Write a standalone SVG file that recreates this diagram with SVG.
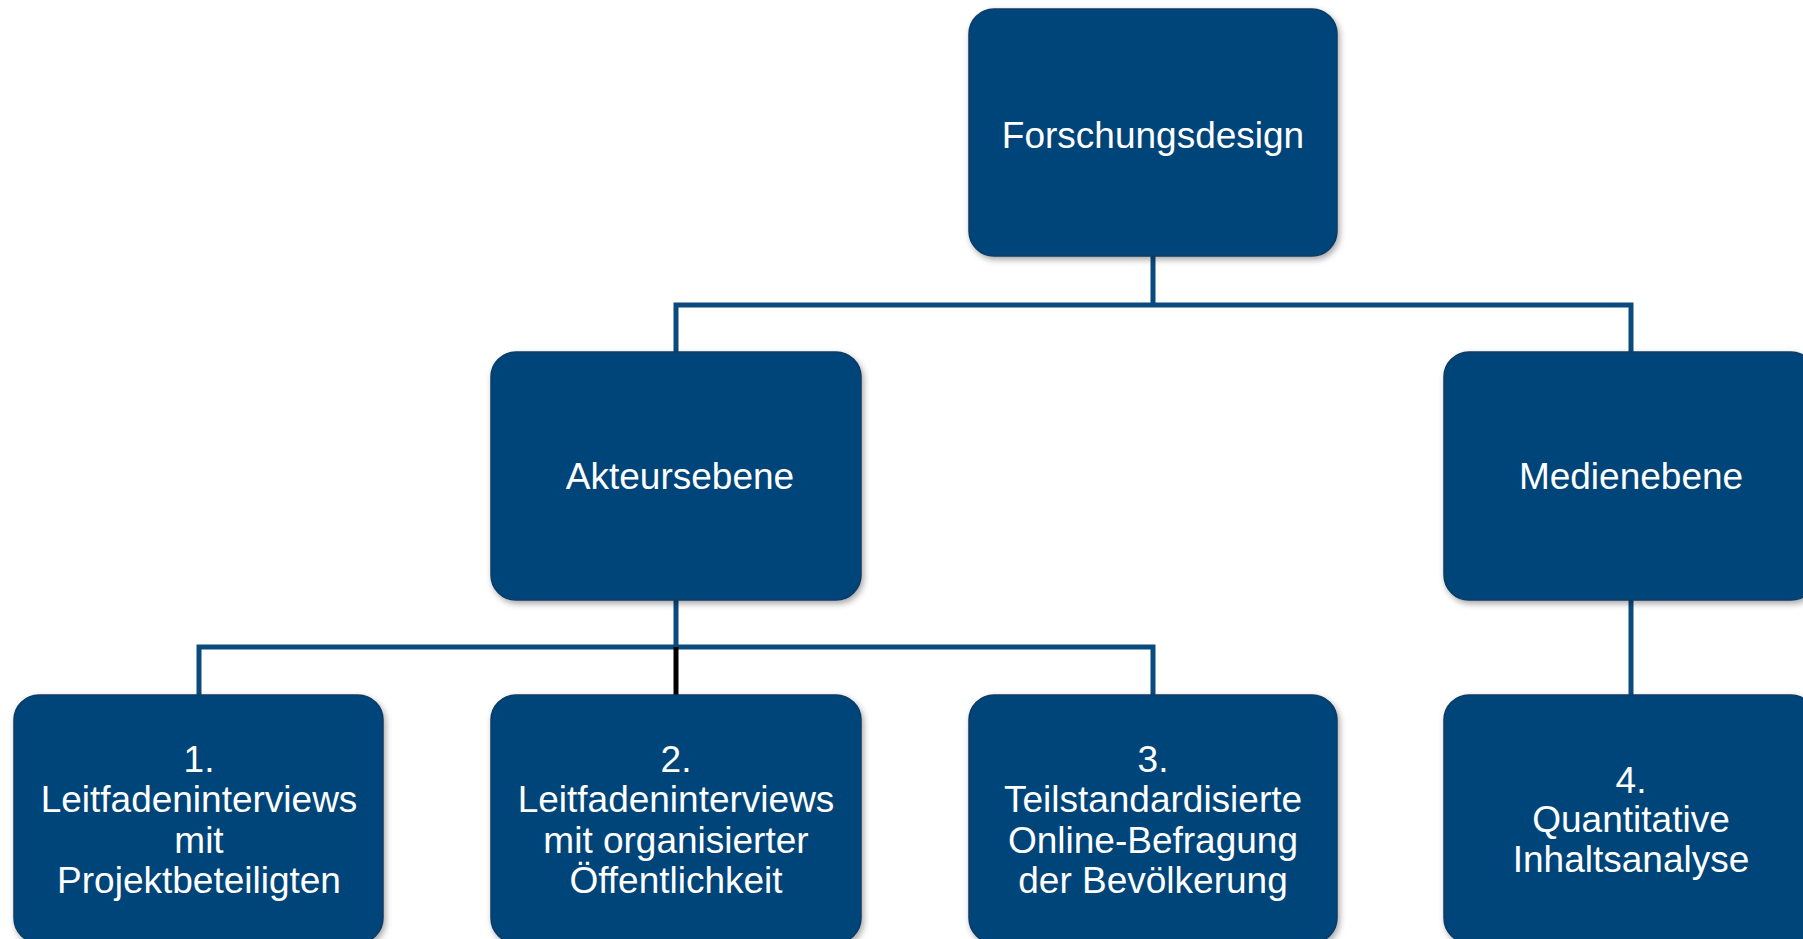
<svg xmlns="http://www.w3.org/2000/svg" width="1803" height="939" viewBox="0 0 1803 939">
<style>
.box{fill:#03457A;stroke:#0A3A63;stroke-width:1.5;filter:url(#sh)}
.t{font-family:"Liberation Sans",Arial,sans-serif;font-size:37px;fill:#FFFFFF;text-anchor:middle}
.c{fill:none;stroke:#0B4A7E;stroke-width:5}
</style>
<defs>
<filter id="sh" x="-10%" y="-10%" width="125%" height="125%">
<feDropShadow dx="2" dy="3" stdDeviation="3" flood-color="#000" flood-opacity="0.35"/>
</filter>
</defs>
<rect width="1803" height="939" fill="#FFFFFF"/>
<g id="connectors">
<path class="c" d="M1153 256V305M676 352V305H1631V352"/>
<path class="c" d="M676 600V647M199 695V647H1153V695"/>
<path fill="none" stroke="#000000" stroke-width="5" d="M676 647V695"/>
<path class="c" d="M1631 600V695"/>
</g>
<g id="n-forschungsdesign">
<rect class="box" x="969" y="9" width="368" height="247" rx="25"/>
<text class="t" x="1153" y="148">Forschungsdesign</text>
</g>
<g id="n-akteursebene">
<rect class="box" x="491" y="352" width="370" height="248" rx="25"/>
<text class="t" x="680" y="489">Akteursebene</text>
</g>
<g id="n-medienebene">
<rect class="box" x="1444" y="352" width="372" height="248" rx="25"/>
<text class="t" x="1631" y="489">Medienebene</text>
</g>
<g id="n-1">
<rect class="box" x="14" y="695" width="369" height="248" rx="25"/>
<text class="t" x="199" y="772">1.</text>
<text class="t" x="199" y="812">Leitfadeninterviews</text>
<text class="t" x="199" y="853">mit</text>
<text class="t" x="199" y="893">Projektbeteiligten</text>
</g>
<g id="n-2">
<rect class="box" x="491" y="695" width="370" height="248" rx="25"/>
<text class="t" x="676" y="772">2.</text>
<text class="t" x="676" y="812">Leitfadeninterviews</text>
<text class="t" x="676" y="853">mit organisierter</text>
<text class="t" x="676" y="893">Öffentlichkeit</text>
</g>
<g id="n-3">
<rect class="box" x="969" y="695" width="368" height="248" rx="25"/>
<text class="t" x="1153" y="772">3.</text>
<text class="t" x="1153" y="812">Teilstandardisierte</text>
<text class="t" x="1153" y="853">Online-Befragung</text>
<text class="t" x="1153" y="893">der Bevölkerung</text>
</g>
<g id="n-4">
<rect class="box" x="1444" y="695" width="372" height="248" rx="25"/>
<text class="t" x="1631" y="793">4.</text>
<text class="t" x="1631" y="832">Quantitative</text>
<text class="t" x="1631" y="872">Inhaltsanalyse</text>
</g>
</svg>
